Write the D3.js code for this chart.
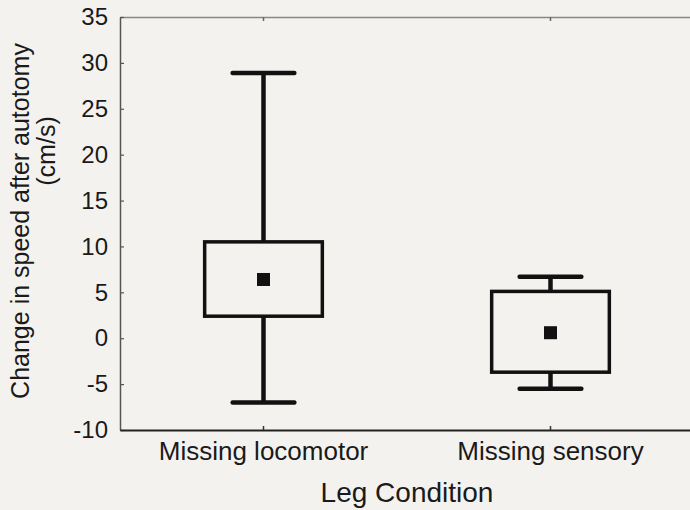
<!DOCTYPE html>
<html>
<head>
<meta charset="utf-8">
<script src="https://cdn.jsdelivr.net/npm/d3@7"></script>
<style>
    html, body { margin: 0; padding: 0; background: #f4f2ef; }
    svg { display: block; font-family: "Liberation Sans", Arial, sans-serif; }
</style>
</head>
<body>
<div id="chartContainer"></div>
<script>
const categories = ['Missing locomotor', 'Missing sensory'];
const means = [6.4, 0.6];
const boxLow = [2.4, -3.7];
const boxHigh = [10.5, 5.1];
const whiskerLow = [-7.0, -5.5];
const whiskerHigh = [28.9, 6.7];
const yTicks = [-10, -5, 0, 5, 10, 15, 20, 25, 30, 35];

document.addEventListener('DOMContentLoaded', function() {
    const width = 690;
    const height = 510;
    const margin = { top: 17, right: -4, bottom: 80, left: 120 };
    const innerW = width - margin.left - margin.right;
    const innerH = height - margin.top - margin.bottom;

    const data = categories.map((c, i) => ({
        cat: c,
        mean: means[i],
        q1: boxLow[i],
        q3: boxHigh[i],
        lo: whiskerLow[i],
        hi: whiskerHigh[i]
    }));

    const svg = d3.select('#chartContainer')
        .append('svg')
        .attr('width', width)
        .attr('height', height);

    svg.append('rect')
        .attr('width', width)
        .attr('height', height)
        .attr('fill', '#f4f2ef');

    const g = svg.append('g')
        .attr('transform', `translate(${margin.left},${margin.top})`);

    const x = d3.scaleBand()
        .domain(categories)
        .range([0, innerW])
        .padding(0);

    const y = d3.scaleLinear()
        .domain([-10, 35])
        .range([innerH, 0]);

    // frame top (lighter)
    const top = g.append('g')
        .call(d3.axisTop(x).tickSizeInner(-4).tickSizeOuter(0).tickFormat(''));
    top.select('.domain').attr('stroke', '#888').attr('stroke-width', 1.5);
    top.selectAll('.tick line').attr('stroke', '#666').attr('stroke-width', 1.5);

    // left axis
    const left = g.append('g')
        .call(d3.axisLeft(y)
            .tickValues(yTicks)
            .tickSizeInner(-4)
            .tickSizeOuter(0)
            .tickPadding(12)
            .tickFormat(d => String(d)));
    left.select('.domain').attr('stroke', '#555').attr('stroke-width', 1.5);
    left.selectAll('.tick line').attr('stroke', '#555').attr('stroke-width', 1.2);
    left.selectAll('.tick text')
        .attr('font-size', 24)
        .attr('fill', '#1a1a1a')
        .attr('font-family', '"Liberation Sans", Arial, sans-serif');

    // bottom axis
    const bottom = g.append('g')
        .attr('transform', `translate(0,${innerH})`)
        .call(d3.axisBottom(x).tickSizeInner(-4).tickSizeOuter(0).tickPadding(12));
    bottom.select('.domain').attr('stroke', '#222').attr('stroke-width', 1.8);
    bottom.selectAll('.tick line').attr('stroke', '#333').attr('stroke-width', 1.5);
    bottom.selectAll('.tick text')
        .attr('font-size', 26)
        .attr('fill', '#1a1a1a')
        .attr('font-family', '"Liberation Sans", Arial, sans-serif');

    const bw = x.bandwidth();
    const boxW = bw * 0.41;
    const capW = bw * 0.215;
    const markS = 13;

    const boxes = g.selectAll('.box')
        .data(data)
        .enter()
        .append('g')
        .attr('class', 'box')
        .attr('transform', d => `translate(${x(d.cat) + bw / 2},0)`);

    // whiskers
    boxes.append('line')
        .attr('x1', 0).attr('x2', 0)
        .attr('y1', d => y(d.hi)).attr('y2', d => y(d.q3))
        .attr('stroke', '#111').attr('stroke-width', 4.5);
    boxes.append('line')
        .attr('x1', 0).attr('x2', 0)
        .attr('y1', d => y(d.q1)).attr('y2', d => y(d.lo))
        .attr('stroke', '#111').attr('stroke-width', 4.5);

    // caps
    boxes.append('line')
        .attr('x1', -capW / 2).attr('x2', capW / 2)
        .attr('y1', d => y(d.hi)).attr('y2', d => y(d.hi))
        .attr('stroke', '#111').attr('stroke-width', 4.5)
        .attr('stroke-linecap', 'round');
    boxes.append('line')
        .attr('x1', -capW / 2).attr('x2', capW / 2)
        .attr('y1', d => y(d.lo)).attr('y2', d => y(d.lo))
        .attr('stroke', '#111').attr('stroke-width', 4.5)
        .attr('stroke-linecap', 'round');

    // box
    boxes.append('rect')
        .attr('x', -boxW / 2)
        .attr('y', d => y(d.q3))
        .attr('width', boxW)
        .attr('height', d => y(d.q1) - y(d.q3))
        .attr('fill', '#f4f2ef')
        .attr('stroke', '#111')
        .attr('stroke-width', 3.5);

    // mean marker
    boxes.append('rect')
        .attr('x', -markS / 2)
        .attr('y', d => y(d.mean) - markS / 2)
        .attr('width', markS)
        .attr('height', markS)
        .attr('fill', '#111');

    // axis titles
    svg.append('text')
        .attr('x', margin.left + innerW / 2)
        .attr('y', 502)
        .attr('text-anchor', 'middle')
        .attr('font-size', 28)
        .attr('fill', '#1a1a1a')
        .text('Leg Condition');

    svg.append('text')
        .attr('transform', 'translate(29,221) rotate(-90)')
        .attr('text-anchor', 'middle')
        .attr('font-size', 25)
        .attr('fill', '#1a1a1a')
        .text('Change in speed after autotomy');

    svg.append('text')
        .attr('transform', 'translate(55,151) rotate(-90)')
        .attr('text-anchor', 'middle')
        .attr('font-size', 25)
        .attr('fill', '#1a1a1a')
        .text('(cm/s)');
});
</script>
</body>
</html>
